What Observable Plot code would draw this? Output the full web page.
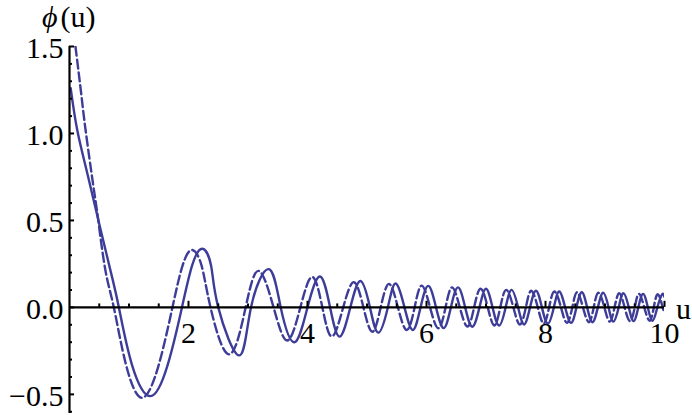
<!DOCTYPE html>
<html>
<head>
<meta charset="utf-8">
<script src="https://cdn.jsdelivr.net/npm/d3@7"></script>
<script src="https://cdn.jsdelivr.net/npm/@observablehq/plot@0.6"></script>
<style>
  html, body { margin: 0; padding: 0; background: #fff; }
  svg text { font-family: "Liberation Serif", "DejaVu Serif", serif; }
</style>
</head>
<body>
<div id="chart"></div>
<script>
// ---- data ----
const solidU = [0.02, 0.13, 0.30, 0.50, 0.69, 0.83, 1.05, 1.36, 1.65, 1.89, 2.06, 2.23, 2.38, 2.50, 2.85, 3.05, 3.35, 3.55, 3.78, 4.00, 4.21, 4.38, 4.54, 4.72, 4.89, 5.05, 5.19, 5.35, 5.48, 5.63, 5.77, 5.90, 6.03, 6.16, 6.29, 6.41, 6.53, 6.65, 6.77, 6.89, 7.00, 7.11, 7.22, 7.33, 7.43, 7.54, 7.64, 7.74, 7.84, 7.94, 8.04, 8.14, 8.23, 8.33, 8.43, 8.52, 8.61, 8.70, 8.79, 8.88, 8.97, 9.06, 9.14, 9.23, 9.31, 9.40, 9.48, 9.56, 9.64, 9.72, 9.80, 9.88, 9.96, 10.0];
const solidV = [1.26, 1.02, 0.77, 0.48, 0.21, 0.0, -0.33, -0.51, -0.33, 0.0, 0.24, 0.337, 0.24, 0.0, -0.276, 0.0, 0.22, 0.0, -0.20, 0.0, 0.178, 0.0, -0.168, 0.0, 0.152, 0.0, -0.145, 0.0, 0.137, 0.0, -0.13, 0.0, 0.124, 0.0, -0.119, 0.0, 0.115, 0.0, -0.111, 0.0, 0.107, 0.0, -0.104, 0.0, 0.101, 0.0, -0.098, 0.0, 0.096, 0.0, -0.093, 0.0, 0.091, 0.0, -0.089, 0.0, 0.087, 0.0, -0.085, 0.0, 0.084, 0.0, -0.082, 0.0, 0.081, 0.0, -0.079, 0.0, 0.078, 0.0, -0.077, 0.0, 0.075, 0.06];

const dashedU = [0.10, 0.20, 0.27, 0.40, 0.48, 0.60, 0.745, 0.95, 1.22, 1.50, 1.73, 1.90, 2.06, 2.22, 2.37, 2.68, 2.96, 3.18, 3.43, 3.66, 3.88, 4.08, 4.25, 4.41, 4.60, 4.78, 4.94, 5.09, 5.23, 5.37, 5.52, 5.67, 5.80, 5.92, 6.06, 6.20, 6.32, 6.43, 6.56, 6.69, 6.80, 6.91, 7.03, 7.14, 7.24, 7.34, 7.46, 7.57, 7.67, 7.76, 7.87, 7.97, 8.06, 8.15, 8.26, 8.36, 8.45, 8.53, 8.63, 8.73, 8.81, 8.89, 8.99, 9.08, 9.16, 9.24, 9.33, 9.42, 9.50, 9.57, 9.66, 9.75, 9.82, 9.89, 9.97, 10.0];
const dashedV = [1.50, 1.22, 1.02, 0.70, 0.51, 0.22, 0.0, -0.33, -0.52, -0.33, 0.0, 0.24, 0.33, 0.24, 0.0, -0.27, 0.0, 0.21, 0.0, -0.19, 0.0, 0.175, 0.0, -0.167, 0.0, 0.145, 0.0, -0.14, 0.0, 0.135, 0.0, -0.13, 0.0, 0.125, 0.0, -0.12, 0.0, 0.115, 0.0, -0.11, 0.0, 0.107, 0.0, -0.104, 0.0, 0.101, 0.0, -0.098, 0.0, 0.096, 0.0, -0.093, 0.0, 0.091, 0.0, -0.089, 0.0, 0.087, 0.0, -0.085, 0.0, 0.084, 0.0, -0.082, 0.0, 0.081, 0.0, -0.079, 0.0, 0.078, 0.0, -0.077, 0.0, 0.075, 0.0, -0.03];

const xMajorTicks = [2, 4, 6, 8, 10];
const xMajorLabels = ["2", "4", "6", "8", "10"];
const xMinorTicks = [0.5, 1, 1.5, 2.5, 3, 3.5, 4.5, 5, 5.5, 6.5, 7, 7.5, 8.5, 9, 9.5];
const yMajorTicks = [-0.5, 0.0, 0.5, 1.0, 1.5];
const yMajorLabels = ["\u22120.5", "0.0", "0.5", "1.0", "1.5"];
const yMinorTicks = [-0.6, -0.4, -0.3, -0.2, -0.1, 0.1, 0.2, 0.3, 0.4, 0.6, 0.7, 0.8, 0.9, 1.1, 1.2, 1.3, 1.4];
const xAxisName = "u";
const yAxisName = ["\u03D5", "(u)"];

// ---- build tables ----
const solid = solidU.map((u, i) => ({u, v: solidV[i]}));
const dashed = dashedU.map((u, i) => ({u, v: dashedV[i]}));
const xMajor = xMajorTicks.map((t, i) => ({t, label: xMajorLabels[i]}));
const yMajor = yMajorTicks.map((t, i) => ({t, label: yMajorLabels[i]}));

const color = "#3d3d99";
const font = "Liberation Serif";

const chart = Plot.plot({
  width: 692,
  height: 415,
  marginLeft: 69,
  marginRight: 28,
  marginTop: 46,
  marginBottom: 2,
  style: {fontFamily: font, fontSize: "30px", background: "#fff", overflow: "visible"},
  x: {domain: [0, 10], axis: null},
  y: {domain: [-0.61, 1.5], axis: null},
  marks: [
    // curves
    Plot.line(dashed, {x: "u", y: "v", curve: "natural", stroke: color, strokeWidth: 2.4, strokeDasharray: "9,4", clip: true}),
    Plot.line(solid, {x: "u", y: "v", curve: "natural", stroke: color, strokeWidth: 2.4, clip: true}),
    // axes lines
    Plot.ruleY([0], {stroke: "#000", strokeWidth: 2.2}),
    Plot.ruleX([0], {stroke: "#000", strokeWidth: 2.2}),
    // x ticks (pointing up)
    Plot.ruleX(xMinorTicks, {x: d => d, y1: 0, y2: 0.02, stroke: "#000", strokeWidth: 2}),
    Plot.ruleX(xMajorTicks, {x: d => d, y1: 0, y2: 0.035, stroke: "#000", strokeWidth: 2}),
    // y ticks (pointing right)
    Plot.ruleY(yMinorTicks, {y: d => d, x1: 0, x2: 0.05, stroke: "#000", strokeWidth: 2}),
    Plot.ruleY(yMajorTicks, {y: d => d, x1: 0, x2: 0.085, stroke: "#000", strokeWidth: 2}),
    // tick labels
    Plot.text(xMajor, {x: "t", y: () => 0, text: "label", dy: 26, fill: "#000", fontSize: 30, fontFamily: font}),
    Plot.text(yMajor, {x: () => 0, y: "t", text: "label", textAnchor: "end", dx: -6, dy: 2, fill: "#000", fontSize: 30, fontFamily: font}),
    // axis names
    Plot.text([xAxisName], {x: () => 10, y: () => 0, text: d => d, dx: 19, dy: 2, fill: "#000", fontSize: 30, fontFamily: font}),
    Plot.text([yAxisName[0]], {x: () => 0, y: () => 1.5, text: d => d, textAnchor: "end", dx: -12, dy: -29, fontStyle: "italic", fill: "#000", fontSize: 30, fontFamily: font}),
    Plot.text([yAxisName[1]], {x: () => 0, y: () => 1.5, text: d => d, textAnchor: "start", dx: -9, dy: -29, fill: "#000", fontSize: 30, fontFamily: font})
  ]
});
document.getElementById("chart").appendChild(chart);
</script>
</body>
</html>
